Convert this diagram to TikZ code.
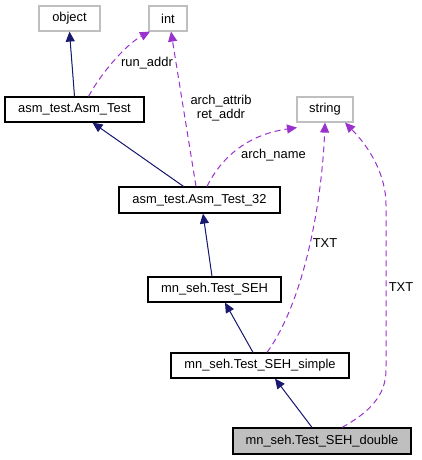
\documentclass[tikz,border=0pt]{standalone}
\usepackage{fontspec}
\setmainfont{Liberation Sans}
\usetikzlibrary{arrows.meta}
\definecolor{navy}{HTML}{191970}
\definecolor{orchid}{HTML}{9A32CD}
\definecolor{boxgrey}{HTML}{BFBFBF}
\tikzset{
  cls/.style={draw=black, line width=1.2pt, fill=white, rectangle, inner sep=0pt,
    font=\fontsize{12.9}{14}\selectfont, text=black},
  ext/.style={cls, draw=boxgrey},
  inh/.style={draw=navy, line width=1pt, -{Triangle[length=10pt,width=9pt]}, fill=navy},
  dep/.style={draw=orchid, line width=1pt, dash pattern=on 6pt off 4pt,
    -{Triangle[length=10pt,width=9pt,fill=orchid]}},
  lbl/.style={font=\fontsize{12.9}{14}\selectfont, align=center, inner sep=0pt}
}
\begin{document}
\begin{tikzpicture}[x=1pt,y=-1pt]
\useasboundingbox (0,0) rectangle (421,460);
\node[ext, minimum width=61, minimum height=25] (object) at (69.5,18.5) {object};
\node[ext, minimum width=38, minimum height=25] (int) at (168,18.5) {int};
\node[ext, minimum width=56, minimum height=25] (string) at (325,109.5) {string};
\node[cls, minimum width=139, minimum height=25] (asmtest) at (74.5,109.5) {asm\_test.Asm\_Test};
\node[cls, minimum width=161, minimum height=26] (asm32) at (199.5,200) {asm\_test.Asm\_Test\_32};
\node[cls, minimum width=133, minimum height=25] (seh) at (214.5,289.5) {mn\_seh.Test\_SEH};
\node[cls, minimum width=178, minimum height=25] (simple) at (260,365.5) {mn\_seh.Test\_SEH\_simple};
\node[cls, fill=boxgrey, minimum width=178, minimum height=26] (double) at (322,441) {mn\_seh.Test\_SEH\_double};

% inheritance
\draw[inh] (asmtest.north) -- (object.south);
\draw[inh] ([xshift=-16]asm32.north) -- ([xshift=18]asmtest.south);
\draw[inh] ([xshift=-2.5]seh.north) -- ([xshift=3.5]asm32.south);
\draw[inh] ([xshift=-7]simple.north) -- ([xshift=10.5]seh.south);
\draw[inh] ([xshift=-10]double.north) -- ([xshift=15]simple.south);

% dependencies
\draw[dep] ([xshift=14]asmtest.north) .. controls (100,75) and (125,45) .. ([xshift=-18]int.south);
\draw[dep] ([xshift=-3.5]asm32.north) -- ([xshift=3]int.south);
\draw[dep] ([xshift=7.5]asm32.north) .. controls (220,160) and (245,135) .. ([xshift=-28,yshift=-5]string.south);
\draw[dep] ([xshift=7]simple.north) .. controls (305,300) and (322,200) .. (string.south);
\draw[dep] ([xshift=20]double.north) .. controls (370,412) and (386,395) .. (386,370)
  -- (386,205) .. controls (386,175) and (370,148) .. ([xshift=20]string.south);

% labels
\node[lbl] (l1) at (147,63) {run\_addr};
\node[lbl] (l2) at (221,108) {arch\_attrib\\ret\_addr};
\node[lbl] (l3) at (273.5,155) {arch\_name};
\node[lbl] (l4) at (325,243) {TXT};
\node[lbl] (l5) at (401,287) {TXT};
\end{tikzpicture}
\end{document}
